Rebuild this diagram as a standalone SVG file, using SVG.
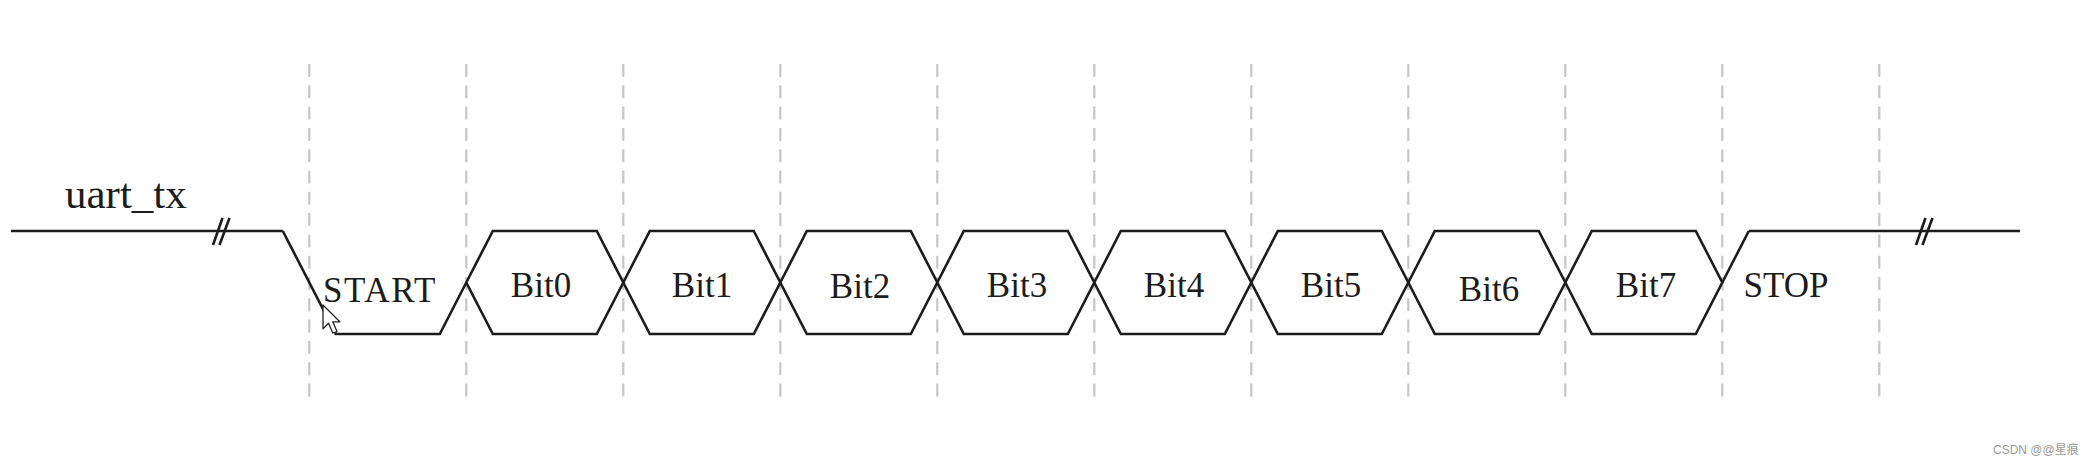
<svg xmlns="http://www.w3.org/2000/svg" width="2092" height="465" viewBox="0 0 2092 465">
<style>
.grid line{stroke:#c6c6c6;stroke-width:2.2;stroke-dasharray:13 8.3}
.sig{fill:none;stroke:#1c1c1c;stroke-width:2.6;stroke-linejoin:miter}
.lbl{font-family:"Liberation Serif","Times New Roman",serif;font-size:35px;fill:#1c1c1c;text-anchor:middle}
.wm{font-family:"Liberation Sans","Noto Sans CJK SC",sans-serif;font-size:12px;fill:#9a9a9a}
</style>
<rect width="2092" height="465" fill="#ffffff"/>
<g class="grid" id="grid">
<line x1="309.3" y1="64" x2="309.3" y2="398"/>
<line x1="466.3" y1="64" x2="466.3" y2="398"/>
<line x1="623.3" y1="64" x2="623.3" y2="398"/>
<line x1="780.3" y1="64" x2="780.3" y2="398"/>
<line x1="937.3" y1="64" x2="937.3" y2="398"/>
<line x1="1094.3" y1="64" x2="1094.3" y2="398"/>
<line x1="1251.3" y1="64" x2="1251.3" y2="398"/>
<line x1="1408.3" y1="64" x2="1408.3" y2="398"/>
<line x1="1565.3" y1="64" x2="1565.3" y2="398"/>
<line x1="1722.3" y1="64" x2="1722.3" y2="398"/>
<line x1="1879.3" y1="64" x2="1879.3" y2="398"/>
</g>
<g id="label-uart_tx">
<text x="65" y="208" style="font-family:'Liberation Serif','Times New Roman',serif;font-size:43px;fill:#1c1c1c">uart_tx</text>
</g>
<g id="connectors">
<path class="sig" d="M11 231 H282.8"/>
<path class="sig" d="M213 245 L222.5 218 M219.5 245 L229.5 218"/>
<path class="sig" d="M1916 245 L1925.5 218 M1922.5 245 L1932.5 218"/>
<path class="sig" d="M1748.8 231 H2020"/>
</g>
<g id="START">
<path class="sig" d="M282.8 231 L335.8 334 H439.8 L466.3 282.5"/>
<text class="lbl" x="380" y="301.5" style="letter-spacing:1.6px">START</text>
</g>
<g id="Bit0">
<polygon class="sig" points="466.3,282.5 492.8,231 596.8,231 623.3,282.5 596.8,334 492.8,334"/>
<text class="lbl" x="541" y="296.7">Bit0</text>
</g>
<g id="Bit1">
<polygon class="sig" points="623.3,282.5 649.8,231 753.8,231 780.3,282.5 753.8,334 649.8,334"/>
<text class="lbl" x="702" y="296.7">Bit1</text>
</g>
<g id="Bit2">
<polygon class="sig" points="780.3,282.5 806.8,231 910.8,231 937.3,282.5 910.8,334 806.8,334"/>
<text class="lbl" x="860" y="298.3">Bit2</text>
</g>
<g id="Bit3">
<polygon class="sig" points="937.3,282.5 963.8,231 1067.8,231 1094.3,282.5 1067.8,334 963.8,334"/>
<text class="lbl" x="1017" y="296.7">Bit3</text>
</g>
<g id="Bit4">
<polygon class="sig" points="1094.3,282.5 1120.8,231 1224.8,231 1251.3,282.5 1224.8,334 1120.8,334"/>
<text class="lbl" x="1174" y="296.7">Bit4</text>
</g>
<g id="Bit5">
<polygon class="sig" points="1251.3,282.5 1277.8,231 1381.8,231 1408.3,282.5 1381.8,334 1277.8,334"/>
<text class="lbl" x="1331" y="296.7">Bit5</text>
</g>
<g id="Bit6">
<polygon class="sig" points="1408.3,282.5 1434.8,231 1538.8,231 1565.3,282.5 1538.8,334 1434.8,334"/>
<text class="lbl" x="1489" y="301">Bit6</text>
</g>
<g id="Bit7">
<polygon class="sig" points="1565.3,282.5 1591.8,231 1695.8,231 1722.3,282.5 1695.8,334 1591.8,334"/>
<text class="lbl" x="1646" y="296.7">Bit7</text>
</g>
<g id="STOP">
<path class="sig" d="M1722.3 282.5 L1748.8 231"/>
<text class="lbl" x="1786" y="296.7">STOP</text>
</g>
<g id="cursor">
<polygon points="323,305 323,328.8 328.6,323.2 332.8,333 337,331.6 332.8,321.8 339.8,321.8" fill="#ffffff" stroke="#222222" stroke-width="1.3" stroke-linejoin="round"/>
</g>
<text class="wm" x="1993" y="454">CSDN @@星痕</text>
</svg>
